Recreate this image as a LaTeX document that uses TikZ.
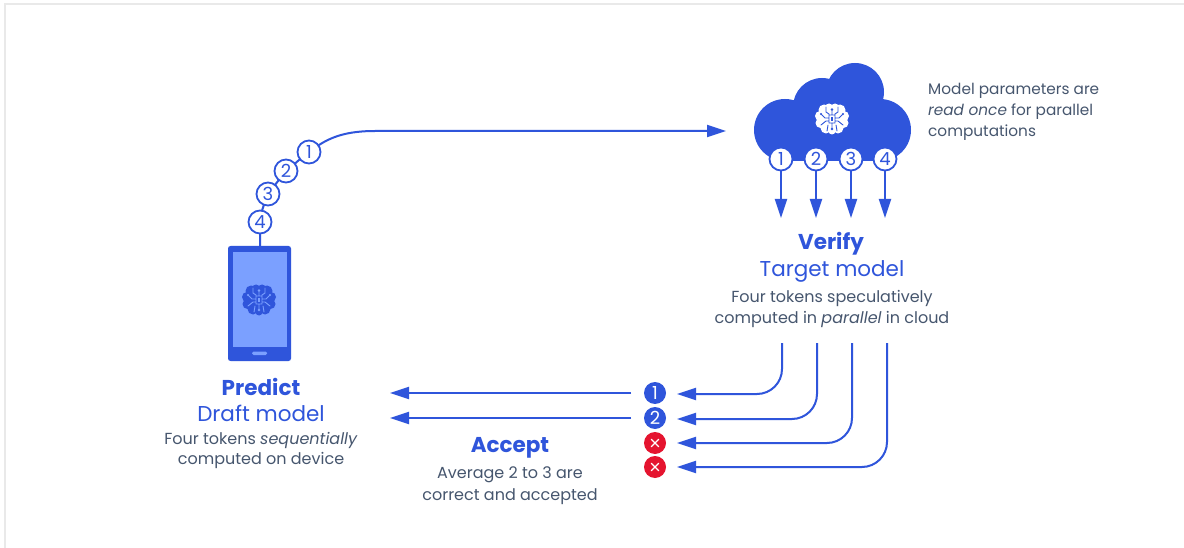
\documentclass[tikz,border=0pt]{standalone}
\usepackage{fontspec}
\setmainfont{Poppins}
\usetikzlibrary{arrows.meta,calc}
\definecolor{qblue}{HTML}{2F55DB}
\definecolor{qtext}{HTML}{46566E}
\definecolor{qred}{HTML}{E5142F}
\definecolor{qscreen}{HTML}{7BA0FF}
\definecolor{qedge}{HTML}{E9E9E9}
\tikzset{
  x=1pt,y=-1pt,
  conn/.style={draw=qblue,line width=2pt},
  tiphead/.style={-{Triangle[length=19pt,width=12pt]}},
  tipped/.style={conn,tiphead,rounded corners=25pt},
  numcirc/.style={circle,draw=qblue,line width=1.8pt,fill=white,minimum size=23pt,inner sep=0pt,text=qblue,font=\fontsize{18}{18}\selectfont},
  goodcirc/.style={circle,fill=qblue,minimum size=22pt,inner sep=0pt,text=white,font=\fontsize{18}{18}\selectfont},
  badcirc/.style={circle,fill=qred,minimum size=22pt,inner sep=0pt},
  crossline/.style={draw=white,line width=1.4pt,line cap=round},
  headtext/.style={text=qblue,font=\fontsize{21.5}{21.5}\selectfont,inner sep=0pt,anchor=center},
  headbold/.style={headtext,font=\fontsize{21.5}{21.5}\selectfont\bfseries},
  bodytext/.style={text=qtext,font=\fontsize{16}{16}\selectfont,inner sep=0pt,anchor=center},
  sidetext/.style={text=qtext,font=\fontsize{15.3}{15.3}\selectfont,inner sep=0pt,anchor=west},
}
\newcommand{\brainicon}[4]{% x, y, brain colour, line colour
  \begin{scope}[shift={(#1,#2)}]
    \fill[#3] (-8,-9) circle (5.5) (-3,-11) circle (4.5) (3,-11) circle (4.5) (8,-9) circle (5.5)
      (-12,-3) circle (5) (12,-3) circle (5) (-11.5,4) circle (5) (11.5,4) circle (5)
      (-6,9) circle (5.5) (6,9) circle (5.5) (0,12) circle (3.5);
    \fill[#3] (-11,-9) rectangle (11,10);
    \draw[#4,line width=0.9pt,line cap=round]
      (-3,-4) rectangle (3,4)
      (0,-4) -- (0,-9) (0,4) -- (0,10)
      (-3,-1) -- (-7,-1) -- (-11,-5) (3,-1) -- (7,-1) -- (11,-5)
      (-3,2) -- (-6,2) -- (-11,6) (3,2) -- (6,2) -- (11,6)
      (-6,-12) -- (-6,-7) -- (-3,-5) (6,-12) -- (6,-7) -- (3,-5)
      (-4,6) -- (-5,12) (4,6) -- (5,12);
    \fill[#4] (0,-9.5) circle (1.4) (0,10) circle (1.4) (-11,-5) circle (1.1) (11,-5) circle (1.1);
    \fill[#4] (-1.2,-2) rectangle (1.2,2);
  \end{scope}
}
\begin{document}
\begin{tikzpicture}
\useasboundingbox (0,0) rectangle (1184,548);
\fill[white] (0,0) rectangle (1184,548);
\fill[qedge] (4,3) rectangle (1184,5);
\fill[qedge] (4,3) rectangle (6,548);

% cloud
\fill[qblue] (785,130) circle (31) (822,107) circle (29) (855,92) circle (29) (880,130) circle (31);
\fill[qblue] (785,105) rectangle (880,161);
\brainicon{832}{119}{white}{qblue}

% phone
\fill[qblue,rounded corners=2.5pt] (228,246) rectangle (291,361);
\fill[qscreen] (233,252) rectangle (287,347);
\fill[qscreen,rounded corners=1.5pt] (252,351.5) rectangle (267,355);
\brainicon{259}{300}{qblue}{qscreen}
\coordinate (phonetop) at (260,246);
\coordinate (cloudin) at (726,131);

% draft tokens
\draw[conn,tiphead] (phonetop) -- (260,222)
  .. controls (262,200) and (275,178) .. (309,152)
  .. controls (325,140) and (340,131) .. (375,131) -- (cloudin);
\node[numcirc] (d4) at (260,222) {4};
\node[numcirc] (d3) at (268,194) {3};
\node[numcirc] (d2) at (286,171) {2};
\node[numcirc] (d1) at (309,152) {1};

% target tokens
\foreach \n/\x in {1/781,2/816,3/851,4/885}{
  \coordinate (t\n) at (\x,218);
  \draw[conn,tiphead] (\x,159) -- (t\n);
  \node[numcirc] (c\n) at (\x,159) {\n};
}

% results
\node[goodcirc] (r1) at (655,393) {1};
\node[goodcirc] (r2) at (655,418) {2};
\node[badcirc] (r3) at (655,443) {};
\node[badcirc] (r4) at (655,467) {};
\foreach \c in {r3,r4}{
  \draw[crossline] ($(\c)+(-3.6,-3.6)$) -- ($(\c)+(3.6,3.6)$);
  \draw[crossline] ($(\c)+(-3.6,3.6)$) -- ($(\c)+(3.6,-3.6)$);
}

\foreach \n/\x/\y in {1/782/394,2/817/419,3/852/443,4/887/467}{
  \coordinate (v\n) at (\x,343);
  \coordinate (e\n) at (677,\y);
  \draw[tipped] (v\n) |- (e\n);
}
\coordinate (l1) at (390,393);
\coordinate (l2) at (390,418);
\coordinate (s1) at (631,393);
\coordinate (s2) at (631,418);
\draw[conn,tiphead] (s1) -- (l1);
\draw[conn,tiphead] (s2) -- (l2);

% text
\node[headbold] (tp1) at (261,386.5) {Predict};
\node[headtext] (tp2) at (261,413.5) {Draft model};
\node[bodytext] (tp3) at (261,440) {Four tokens \textit{sequentially}};
\node[bodytext] (tp4) at (261,460) {computed on device};
\node[headbold] (ta1) at (510,448) {Accept};
\node[bodytext] (ta2) at (510,475) {Average 2 to 3 are};
\node[bodytext] (ta3) at (510,497) {correct and accepted};
\node[headbold] (tv1) at (831,244) {Verify};
\node[headtext] (tv2) at (832,271) {Target model};
\node[bodytext] (tv3) at (832,298) {Four tokens speculatively};
\node[bodytext] (tv4) at (832,319) {computed in \textit{parallel} in cloud};
\node[sidetext] (tm1) at (928,91) {Model parameters are};
\node[sidetext] (tm2) at (928,112) {\textit{read once} for parallel};
\node[sidetext] (tm3) at (928,133) {computations};
\end{tikzpicture}
\end{document}
